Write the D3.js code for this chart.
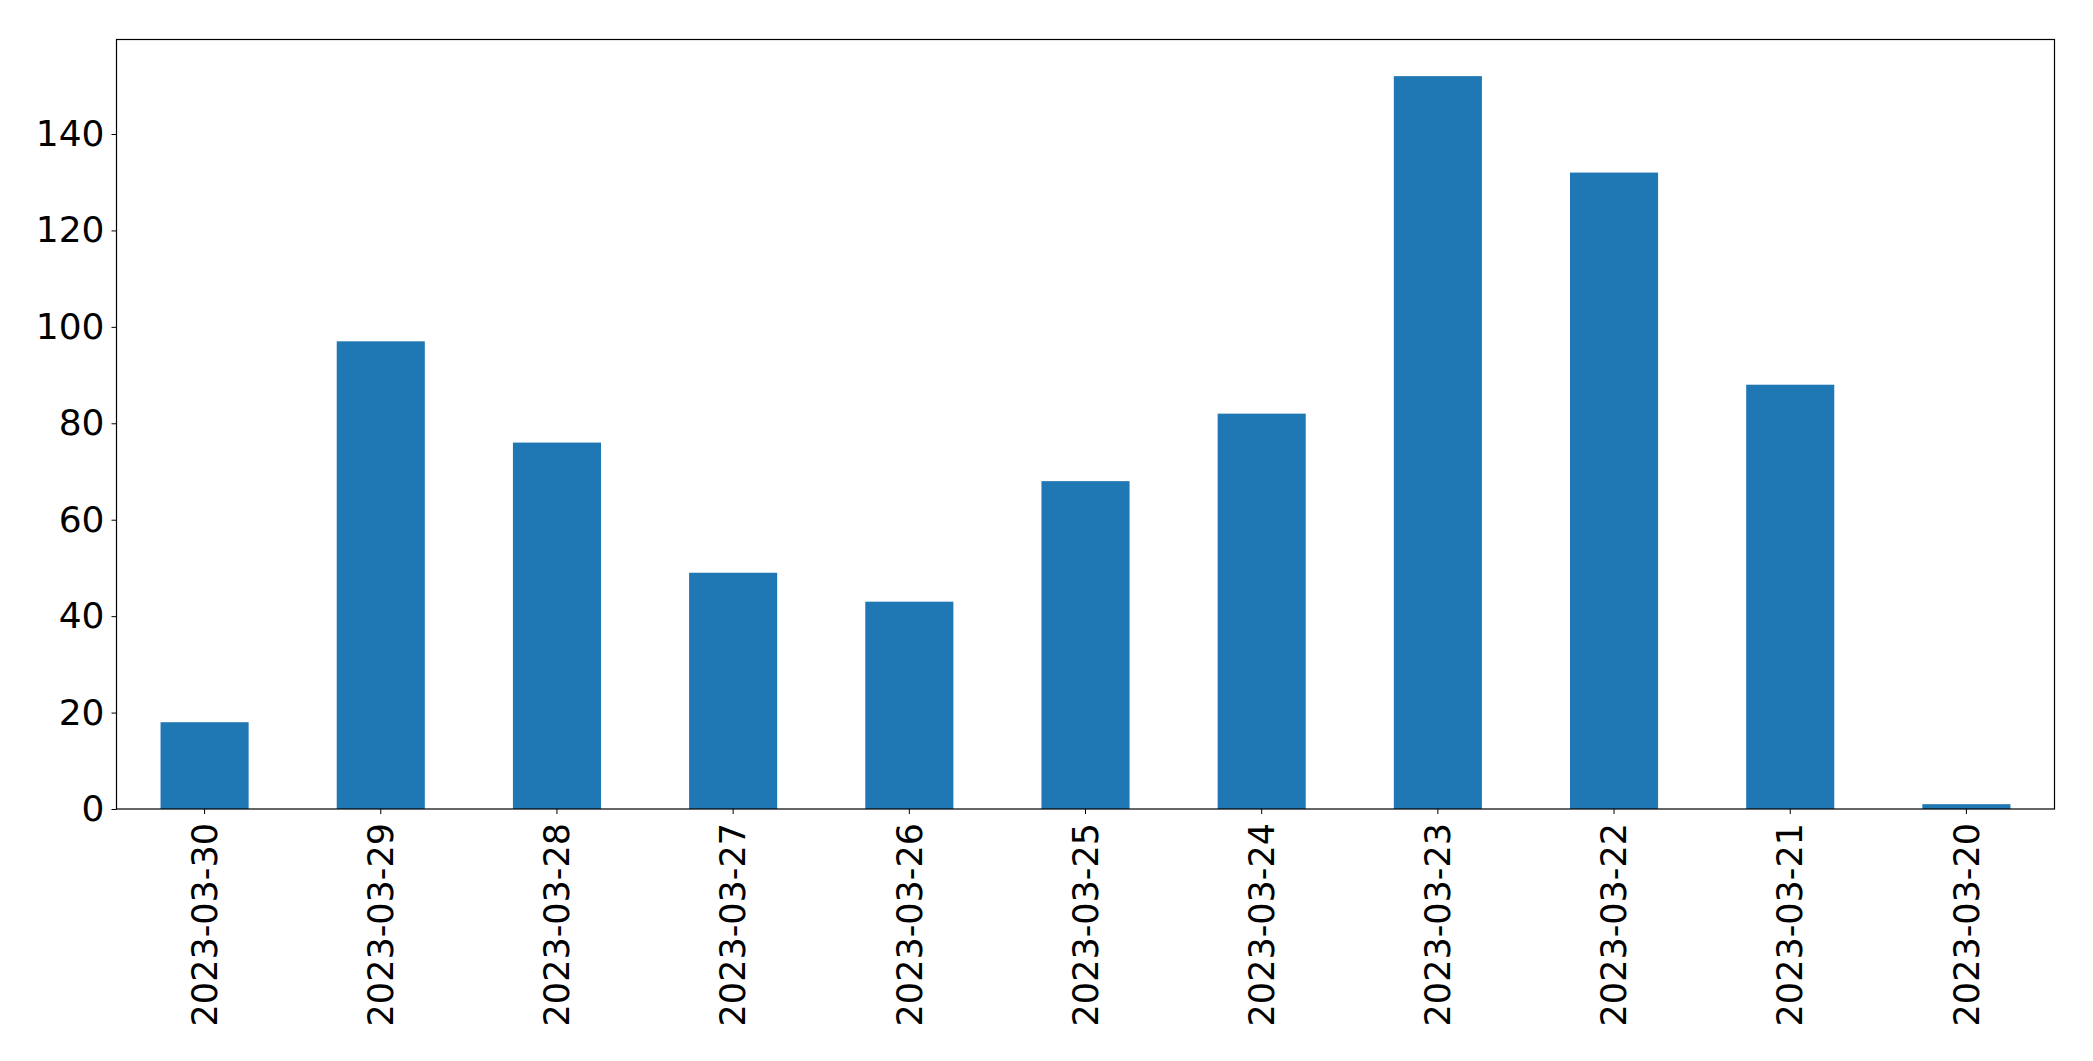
<!DOCTYPE html>
<html><head><meta charset="utf-8">
<script src="https://cdn.jsdelivr.net/npm/d3@7"></script>
<style>body{margin:0;background:#fff}svg{display:block}</style>
</head><body>
<svg id="c" width="2093" height="1061"></svg>
<script>
const categories = ["2023-03-30","2023-03-29","2023-03-28","2023-03-27","2023-03-26","2023-03-25","2023-03-24","2023-03-23","2023-03-22","2023-03-21","2023-03-20"];
const values = [18, 97, 76, 49, 43, 68, 82, 152, 132, 88, 1];
const yTicks = [0, 20, 40, 60, 80, 100, 120, 140];

const W = 2093, H = 1061;
const m = {left: 116.5, top: 39.5, right: W - 2054.5, bottom: H - 809};
const iw = W - m.left - m.right, ih = H - m.top - m.bottom;
const font = "'DejaVu Sans', sans-serif";
const fs = 35;

const svg = d3.select("#c");
const g = svg.append("g").attr("transform", `translate(${m.left},${m.top})`);

const x = d3.scaleBand().domain(categories).range([0, iw]).paddingInner(0.5).paddingOuter(0.25);
const y = d3.scaleLinear().domain([0, d3.max(values) * 1.05]).range([ih, 0]);

g.selectAll("rect.bar").data(values).join("rect")
  .attr("class", "bar")
  .attr("x", (d, i) => x(categories[i]))
  .attr("width", x.bandwidth())
  .attr("y", d => y(d))
  .attr("height", d => y(0) - y(d))
  .attr("fill", "#1f77b4");

const ya = g.append("g").call(d3.axisLeft(y).tickValues(yTicks).tickSize(5).tickPadding(7));
ya.select(".domain").remove();
ya.selectAll("text").attr("font-family", font).attr("font-size", 36).attr("fill", "#000");
ya.selectAll("line").attr("stroke", "#000");

const xa = g.append("g").attr("transform", `translate(0,${ih})`)
  .call(d3.axisBottom(x).tickSize(5).tickPadding(0));
xa.select(".domain").remove();
xa.selectAll("line").attr("stroke", "#000");
xa.selectAll("text")
  .attr("font-family", font).attr("font-size", fs).attr("fill", "#000")
  .attr("transform", "translate(0,14) rotate(-90)")
  .attr("x", 0).attr("y", 0).attr("dy", "0.35em")
  .attr("text-anchor", "end");

g.append("rect").attr("x", 0).attr("y", 0).attr("width", iw).attr("height", ih)
  .attr("fill", "none").attr("stroke", "#000").attr("stroke-width", 1.2);
</script>
</body></html>
